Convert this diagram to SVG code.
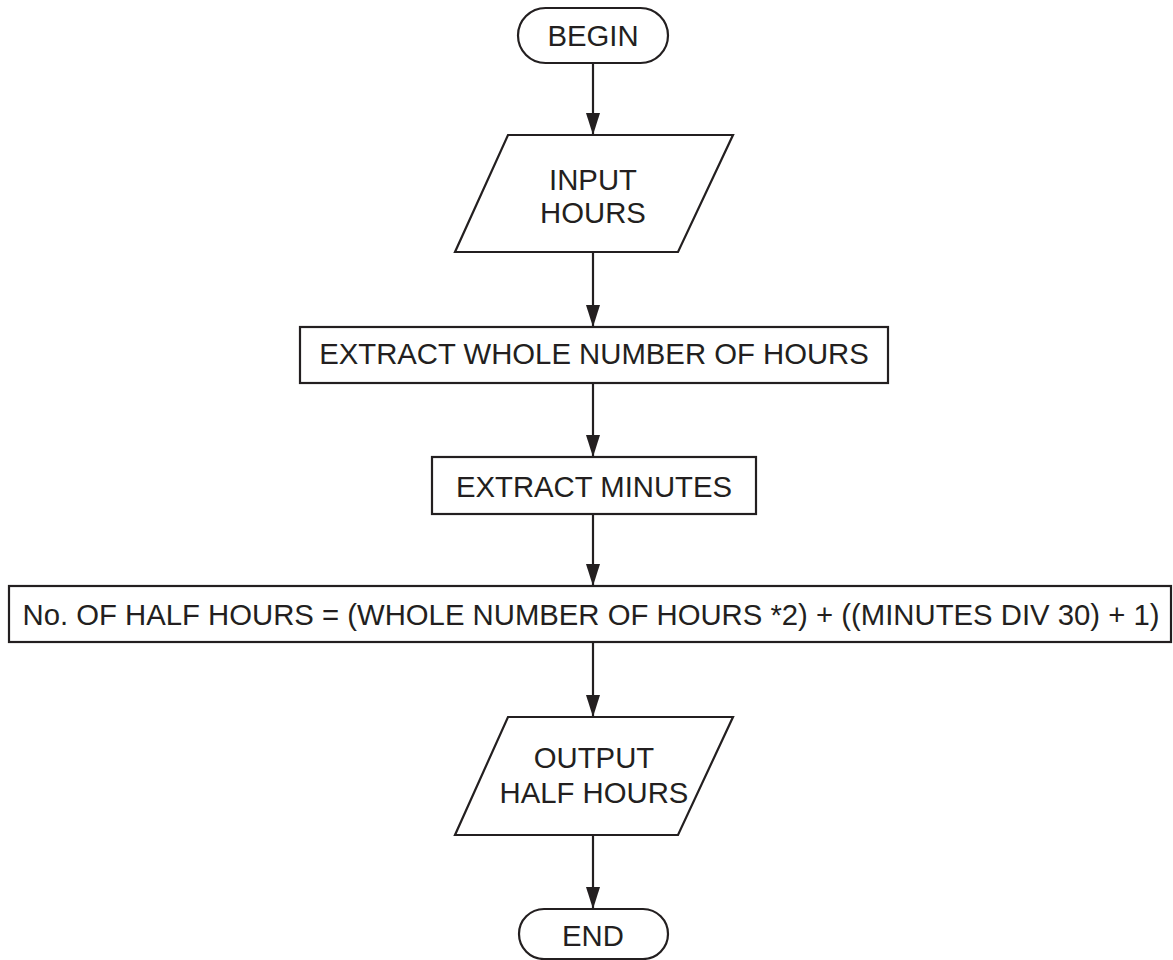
<svg xmlns="http://www.w3.org/2000/svg" width="1173" height="960" viewBox="0 0 1173 960">
<defs>
<style>
.shape{fill:#fff;stroke:#231f20;stroke-width:2.2}
.conn{fill:none;stroke:#231f20;stroke-width:2.2}
.lbl{font-family:"Liberation Sans",Arial,sans-serif;font-size:29.3px;fill:#231f20;text-anchor:middle}
</style>
<marker id="arrow" markerUnits="userSpaceOnUse" markerWidth="22" markerHeight="14" viewBox="0 0 22 14" refX="22" refY="7" orient="auto">
<path d="M0,0 L22,7 L0,14 Z" fill="#231f20"/>
</marker>
</defs>
<rect width="1173" height="960" fill="#fff"/>
<g id="connectors">
<line class="conn" x1="593" y1="63" x2="593" y2="135" marker-end="url(#arrow)"/>
<line class="conn" x1="593" y1="252" x2="593" y2="327" marker-end="url(#arrow)"/>
<line class="conn" x1="593" y1="383" x2="593" y2="457" marker-end="url(#arrow)"/>
<line class="conn" x1="593" y1="514" x2="593" y2="586" marker-end="url(#arrow)"/>
<line class="conn" x1="593" y1="642" x2="593" y2="717" marker-end="url(#arrow)"/>
<line class="conn" x1="593" y1="835" x2="593" y2="909" marker-end="url(#arrow)"/>
</g>
<g id="begin">
<rect class="shape" x="518" y="8" width="150" height="55" rx="27.5"/>
<text class="lbl" x="593" y="46">BEGIN</text>
</g>
<g id="input-hours">
<polygon class="shape" points="508,135 733,135 678,252 455,252"/>
<text class="lbl" x="593" y="190">INPUT</text>
<text class="lbl" x="593" y="223">HOURS</text>
</g>
<g id="extract-whole">
<rect class="shape" x="300" y="327" width="588" height="56"/>
<text class="lbl" x="594" y="364">EXTRACT WHOLE NUMBER OF HOURS</text>
</g>
<g id="extract-minutes">
<rect class="shape" x="432" y="457" width="324" height="57"/>
<text class="lbl" x="594" y="497">EXTRACT MINUTES</text>
</g>
<g id="half-hours">
<rect class="shape" x="9" y="586" width="1162" height="56"/>
<text class="lbl" x="591" y="625">No. OF HALF HOURS = (WHOLE NUMBER OF HOURS *2) + ((MINUTES DIV 30) + 1)</text>
</g>
<g id="output-half-hours">
<polygon class="shape" points="508,717 733,717 678,835 455,835"/>
<text class="lbl" x="594" y="768">OUTPUT</text>
<text class="lbl" x="594" y="803">HALF HOURS</text>
</g>
<g id="end">
<rect class="shape" x="519" y="909" width="149" height="50" rx="25"/>
<text class="lbl" x="593" y="946">END</text>
</g>
</svg>
